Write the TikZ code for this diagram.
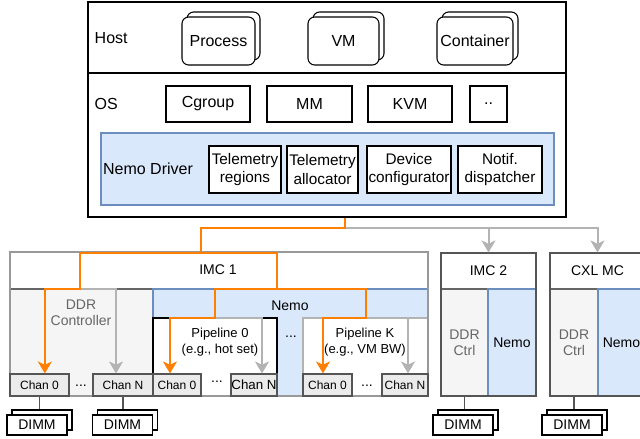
\documentclass[tikz,border=0pt]{standalone}
\usepackage{fontspec}
\setmainfont{Liberation Sans}
\usetikzlibrary{arrows.meta}

\definecolor{nemofill}{HTML}{DAE8FC}
\definecolor{nemoline}{HTML}{6C8EBF}
\definecolor{ddrfill}{HTML}{F5F5F5}
\definecolor{ddrline}{HTML}{666666}
\definecolor{chanfill}{HTML}{EBEBEB}
\definecolor{chanline}{HTML}{555555}
\definecolor{textgray}{HTML}{666666}
\definecolor{outgray}{HTML}{999999}
\definecolor{arrgray}{HTML}{B3B3B3}
\definecolor{orangeline}{HTML}{FF8000}

\begin{document}
\begin{tikzpicture}[x=0.75pt,y=-0.75pt,
    box/.style={rectangle, draw, fill=white, line width=0.8pt, inner sep=1pt, align=center, font=\fontsize{12}{14}\selectfont},
    stackbox/.style={box, rounded corners=5pt, minimum height=36pt},
    osbox/.style={box, minimum height=27pt, minimum width=63pt},
    drvbox/.style={box, minimum height=35.25pt, font=\fontsize{11.5}{13.8}\selectfont},
    region/.style={rectangle, draw, line width=0.8pt, inner sep=0pt, align=center, font=\fontsize{10.5}{12}\selectfont},
    lbl/.style={align=center, inner sep=1pt, font=\fontsize{10.5}{12}\selectfont},
    toplbl/.style={anchor=west, font=\fontsize{12}{14}\selectfont},
    chan/.style={rectangle, draw=chanline, fill=chanfill, line width=0.8pt, minimum height=16.5pt, inner sep=0pt, font=\fontsize{9}{10}\selectfont},
    dimm/.style={rectangle, draw, fill=white, line width=0.8pt, minimum width=45pt, minimum height=15pt, inner sep=0pt, font=\fontsize{10.5}{12}\selectfont},
    link/.style={draw=chanline, line width=0.8pt},
    oline/.style={draw=orangeline, line width=1.5pt},
    oarrow/.style={oline, -{Stealth[length=9pt,width=10.5pt,inset=2.5pt]}},
    garrow/.style={draw=arrgray, line width=1.5pt, -{Stealth[length=9pt,width=10.5pt,inset=2.5pt]}}
]
    \useasboundingbox (0,0) rectangle (640,439);
    \clip (0,0) rectangle (640,439);

    % host and OS
    \node[region, minimum width=358.5pt, minimum height=53.25pt] (host) at (327,37.5) {};
    \node[region, minimum width=358.5pt, minimum height=108pt] (os) at (327,145) {};
    \node[toplbl] (hostlbl) at (90,38) {Host};
    \node[toplbl] (oslbl) at (90,104) {OS};

    \node[stackbox, minimum width=54.75pt] (procb) at (223.5,36) {};
    \node[stackbox, minimum width=54.75pt] (proc) at (218.5,41) {Process};
    \node[stackbox, minimum width=53.25pt] (vmb) at (348.5,36) {};
    \node[stackbox, minimum width=53.25pt] (vm) at (343.5,41) {VM};
    \node[stackbox, minimum width=57pt] (contb) at (480,36) {};
    \node[stackbox, minimum width=57pt] (cont) at (475,41) {Container};

    \node[osbox] (cgroup) at (208,104) {Cgroup};
    \node[osbox, minimum width=63.75pt] (mm) at (309.5,104) {MM};
    \node[osbox] (kvm) at (410,104) {KVM};
    \node[osbox, minimum width=27.75pt] (more) at (488.5,104) {..};

    \node[region, draw=nemoline, fill=nemofill, minimum width=339.75pt, minimum height=54pt] (drv) at (327.5,169) {};
    \node[font=\fontsize{12}{14}\selectfont] (drvlbl) at (148,169) {Nemo Driver};
    \node[drvbox, minimum width=54pt] (telreg) at (245,169.5) {Telemetry\\regions};
    \node[drvbox, minimum width=53.25pt] (telalloc) at (322.5,169.5) {Telemetry\\allocator};
    \node[drvbox, minimum width=63pt] (devconf) at (409,169.5) {Device\\configurator};
    \node[drvbox, minimum width=63pt] (notif) at (500,169.5) {Notif.\\dispatcher};

    % IMC 1
    \node[region, draw=ddrline, fill=ddrfill, minimum width=107.25pt, minimum height=80.25pt] (ddr) at (81.5,342.5) {};
    \node[lbl, text=textgray] (ddrlbl) at (81,313) {DDR\\Controller};
    \node[region, draw=nemoline, fill=nemofill, minimum width=206.25pt, minimum height=80.25pt] (nemo1) at (290.5,342.5) {};
    \node[lbl] (nemolbl) at (290,306) {Nemo};
    \node[region, fill=white, minimum width=93pt, minimum height=58.5pt] (pipe0) at (215,357) {};
    \node[lbl, font=\fontsize{9.75}{12}\selectfont] (pipe0lbl) at (220,342) {Pipeline 0\\(e.g., hot set)};
    \node[region, draw=arrgray, fill=white, minimum width=93.75pt, minimum height=58.5pt] (pipek) at (365.5,357) {};
    \node[lbl, font=\fontsize{9.75}{12}\selectfont] (pipeklbl) at (365,342) {Pipeline K\\(e.g., VM BW)};
    \node[lbl] (pipedots) at (291,337) {...};
    \node[region, draw=outgray, minimum width=313.5pt, minimum height=108pt] (imc1) at (219,324) {};
    \node[lbl] (imc1lbl) at (218,270) {IMC 1};

    \node[chan, minimum width=44.25pt] (dchan0) at (39.5,385) {Chan 0};
    \node[chan, minimum width=45pt] (dchanN) at (123,385) {Chan N};
    \node[lbl] (ddots) at (81,386) {...};
    \node[chan, minimum width=36pt] (p0chan0) at (177,385) {Chan 0};
    \node[chan, minimum width=34.5pt, font=\fontsize{10}{11}\selectfont] (p0chanN) at (254,385) {Chan N};
    \node[lbl] (p0dots) at (217,382) {...};
    \node[chan, minimum width=36.75pt] (pkchan0) at (327.5,385) {Chan 0};
    \node[chan, minimum width=34.5pt] (pkchanN) at (405,385) {Chan N};
    \node[lbl] (pkdots) at (367,386) {...};

    % IMC 2 and CXL MC
    \node[region, fill=white, draw=chanline, minimum width=71.25pt, minimum height=27pt] (imc2) at (488.5,271) {IMC 2};
    \node[region, draw=ddrline, fill=ddrfill, text=textgray, minimum width=35.25pt, minimum height=80.25pt] (imc2ddr) at (464.5,342.5) {DDR\\Ctrl};
    \node[region, draw=nemoline, fill=nemofill, minimum width=36pt, minimum height=80.25pt] (imc2nemo) at (512,342.5) {Nemo};
    \node[region, draw=chanline, minimum width=71.25pt, minimum height=107.25pt] (imc2box) at (488.5,324.5) {};
    \node[region, fill=white, draw=chanline, minimum width=71.25pt, minimum height=27pt] (cxl) at (597.5,271) {CXL MC};
    \node[region, draw=ddrline, fill=ddrfill, text=textgray, minimum width=36pt, minimum height=80.25pt] (cxlddr) at (574,342.5) {DDR\\Ctrl};
    \node[region, draw=nemoline, fill=nemofill, minimum width=35.25pt, minimum height=80.25pt] (cxlnemo) at (621.5,342.5) {Nemo};
    \node[region, draw=chanline, minimum width=71.25pt, minimum height=107.25pt] (cxlbox) at (597.5,324.5) {};

    % DIMMs
    \node[dimm] (dimm1b) at (42,420) {};
    \node[dimm] (dimm1) at (37,425) {DIMM};
    \node[dimm] (dimm2b) at (127.5,420) {};
    \node[dimm] (dimm2) at (122.5,425) {DIMM};
    \node[dimm] (dimm3b) at (468,420) {};
    \node[dimm] (dimm3) at (463,425) {DIMM};
    \node[dimm] (dimm4b) at (577,420) {};
    \node[dimm] (dimm4) at (572,425) {DIMM};
    \draw[link] (dchan0.south) -- (dchan0.south |- dimm1b.north);
    \draw[link] (dchanN.south) -- (dchanN.south |- dimm2b.north);
    \draw[link] (imc2ddr.south) -- (imc2ddr.south |- dimm3b.north);
    \draw[link] (cxlddr.south) -- (cxlddr.south |- dimm4b.north);

    % data paths
    \coordinate (bus) at (345,228);
    \coordinate (imcin) at (201,253);
    \coordinate (ddrsplit) at (80,289);
    \coordinate (nemosplit) at (277,289);
    \coordinate (p0split) at (215,318);
    \coordinate (pksplit) at (366,318);

    \draw[garrow] (bus) -| (cxl.north);
    \draw[garrow] (bus) -| (imc2.north);
    \draw[garrow] (ddrsplit) -| ([xshift=-5.25pt]dchanN.north);
    \draw[garrow] (p0split) -| ([xshift=6pt]p0chanN.north);
    \draw[garrow] (pksplit) -| ([xshift=2.25pt]pkchanN.north);

    \draw[oline] (os.south -| bus) -- (bus) -| (imcin);
    \draw[oarrow] (imcin) -| (ddrsplit) -| ([xshift=4pt]dchan0.north);
    \draw[oarrow] (imcin) -| (nemosplit) -| (p0split) -| ([xshift=-5.25pt]p0chan0.north);
    \draw[oarrow] (nemosplit) -| (pksplit) -| ([xshift=-3.4pt]pkchan0.north);
\end{tikzpicture}
\end{document}
